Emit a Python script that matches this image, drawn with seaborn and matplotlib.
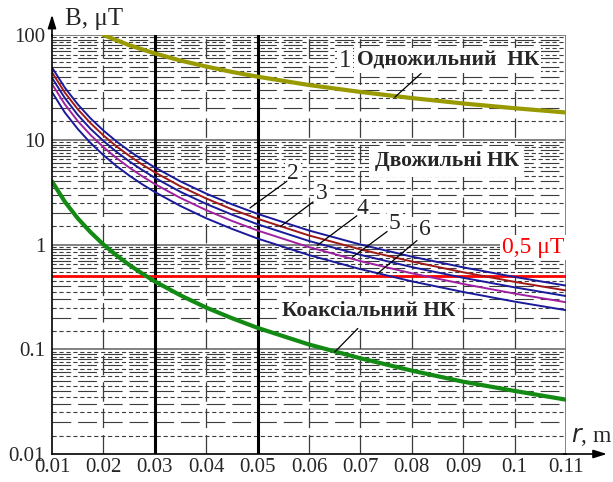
import numpy as np
import pandas as pd
import matplotlib
matplotlib.use("Agg")
import matplotlib.pyplot as plt
import seaborn as sns

# distance r, m (shared by the coaxial and two-core curves)
r = [0.01, 0.0125, 0.015, 0.0175, 0.02, 0.0225, 0.025, 0.0275, 0.03, 0.035,
     0.04, 0.045, 0.05, 0.06, 0.07, 0.08, 0.09, 0.10, 0.11]

# two-core cables, curves 2..6 (B, uT)
b2 = [49.0, 31.4, 21.8, 16.0, 12.25, 9.68, 7.84, 6.48, 5.44, 4.0, 3.06, 2.42, 1.96, 1.36, 1.0, 0.766, 0.605, 0.49, 0.405]
b3 = [44.0, 28.2, 19.6, 14.4, 11.0, 8.69, 7.04, 5.82, 4.89, 3.59, 2.75, 2.17, 1.76, 1.22, 0.898, 0.688, 0.543, 0.44, 0.364]
b4 = [39.0, 25.0, 17.3, 12.7, 9.75, 7.70, 6.24, 5.16, 4.33, 3.18, 2.44, 1.93, 1.56, 1.08, 0.796, 0.609, 0.481, 0.39, 0.322]
b5 = [34.0, 21.8, 15.1, 11.1, 8.5, 6.72, 5.44, 4.50, 3.78, 2.78, 2.13, 1.68, 1.36, 0.944, 0.694, 0.531, 0.420, 0.34, 0.281]
b6 = [28.5, 18.2, 12.7, 9.31, 7.13, 5.63, 4.56, 3.77, 3.17, 2.33, 1.78, 1.41, 1.14, 0.792, 0.582, 0.445, 0.352, 0.285, 0.236]

# coaxial cable
b_coax = [4.0, 2.56, 1.78, 1.31, 1.0, 0.79, 0.64, 0.53, 0.444, 0.327, 0.25, 0.198, 0.16, 0.111, 0.082, 0.0625, 0.049, 0.04, 0.033]

# single-core cable, curve 1
r1 = [0.02, 0.025, 0.03, 0.035, 0.04, 0.045, 0.05, 0.06, 0.07, 0.08, 0.09, 0.10, 0.11]
b1 = [100, 80, 66.7, 57, 50, 44.4, 40, 33.3, 28.6, 25, 22.2, 20, 18.2]

threshold = 0.5
x_ticks = [0.01, 0.02, 0.03, 0.04, 0.05, 0.06, 0.07, 0.08, 0.09, 0.1, 0.11]
x_labels = ["0.01", "0.02", "0.03", "0.04", "0.05", "0.06", "0.07", "0.08", "0.09", "0.1", "0.11"]
y_ticks = [0.01, 0.1, 1, 10, 100]
y_labels = ["0.01", "0.1", "1", "10", "100"]

sns.set_style("white")
plt.rcParams['font.family'] = ['Liberation Serif', 'DejaVu Serif']
plt.rcParams['lines.scale_dashes'] = False

fig = plt.figure(figsize=(6.13, 4.82), dpi=100)
ax = fig.add_axes([52 / 613, 28 / 482, 514 / 613, 419 / 482])
ax.set_yscale('log')
ax.set_xlim(0.01, 0.11)
ax.set_ylim(0.01, 100)

# Mathcad-like grid
gcol = '#3c3c3c'
for d in [0.01, 0.1, 1, 10]:
    for m in range(2, 10):
        ax.axhline(d * m, color=gcol, lw=0.8, ls=(0, (13.5, 5)), zorder=1)
    for m in np.arange(1.5, 10, 1.0):
        ax.axhline(d * m, color=gcol, lw=0.8, ls=(0, (3, 2)), zorder=1)
for d in [0.1, 1, 10, 100]:
    ax.axhline(d, color='#777777', lw=1.3, zorder=1)
for x in x_ticks[1:-1]:
    ax.axvline(x, color=gcol, lw=0.9, ls=(0, (14, 5)), zorder=1)
ax.axvline(0.11, color='#777777', lw=1.3, zorder=1)

ax.axvline(0.03, color='black', lw=2.2, zorder=2)
ax.axvline(0.05, color='black', lw=2.2, zorder=2)

# curves
df = pd.DataFrame({
    'r': r * 5,
    'B': b2 + b3 + b4 + b5 + b6,
    'curve': sum([[c] * len(r) for c in ['2', '3', '4', '5', '6']], []),
})
sns.lineplot(data=df, x='r', y='B', hue='curve', hue_order=['2', '3', '4', '5', '6'],
             palette=['#1a1a9a', '#a01818', '#1a1a9a', '#a020a0', '#1a1a9a'],
             lw=1.4, estimator=None, legend=False, ax=ax, zorder=5)
sns.lineplot(x=r, y=b_coax, color='#138a13', lw=3, ax=ax, zorder=5)
sns.lineplot(x=r1, y=b1, color='#999900', lw=3, ax=ax, zorder=5)
ax.axhline(threshold, color='#ff0000', lw=2, zorder=4)

# labels
box = dict(facecolor='white', edgecolor='none', pad=1.5)
ax.text(0.0670, 57, "1", fontsize=18, ha='center', va='center', bbox=box, zorder=3)
ax.text(0.0870, 57, "Одножильний  НК", fontsize=15.5, fontweight='bold',
        ha='center', va='center', bbox=box, zorder=3)
ax.text(0.0868, 6.2, "Двожильні НК", fontsize=15.5, fontweight='bold',
        ha='center', va='center', bbox=dict(facecolor='white', edgecolor='none', pad=4), zorder=3)
ax.text(0.0717, 0.233, "Коаксіальний НК", fontsize=15.5, fontweight='bold',
        ha='center', va='center', bbox=box, zorder=3)
ax.text(0.1036, 0.94, "0,5 μT", fontsize=17, color='#ff0000',
        ha='center', va='center', bbox=box, zorder=3)

leaders = [
    ((0.0818, 42.9), (0.0767, 25.5)),
    ((0.0557, 4.02), (0.0485, 2.23)),
    ((0.0608, 2.55), (0.0544, 1.48)),
    ((0.0693, 1.88), (0.0616, 0.98)),
    ((0.0752, 1.33), (0.0684, 0.754)),
    ((0.0810, 1.09), (0.0732, 0.521)),
    ((0.0695, 0.158), (0.0650, 0.094)),
]
for (x0, y0), (x1, y1) in leaders:
    ax.plot([x0, x1], [y0, y1], color='black', lw=0.9, zorder=6)

for lab, x, y in [("2", 0.0569, 4.78), ("3", 0.0625, 3.09), ("4", 0.0703, 2.19),
                  ("5", 0.0767, 1.58), ("6", 0.0825, 1.385)]:
    ax.text(x, y, lab, fontsize=17, ha='center', va='center', bbox=box, zorder=3)

# axes, ticks, arrows
for s in ['top', 'right']:
    ax.spines[s].set_visible(False)
for s in ['left', 'bottom']:
    ax.spines[s].set_color('black')
    ax.spines[s].set_linewidth(1.2)
    ax.spines[s].set_zorder(7)
ax.set_xticks(x_ticks)
ax.set_xticklabels(x_labels)
ax.set_yticks(y_ticks)
ax.set_yticklabels(y_labels)
ax.minorticks_off()
ax.tick_params(axis='both', which='major', direction='out', length=3, width=1,
               color='black', labelsize=15, pad=0)
ax.tick_params(axis='y', pad=2)
ax.set_xlabel("")
ax.set_ylabel("")

ax.annotate("", xy=(1.085, 0), xytext=(0.99, 0), xycoords='axes fraction',
            arrowprops=dict(arrowstyle='-|>,head_length=0.8,head_width=0.25', color='black', lw=1.2),
            annotation_clip=False)
ax.annotate("", xy=(0, 1.055), xytext=(0, 0.99), xycoords='axes fraction',
            arrowprops=dict(arrowstyle='-|>,head_length=0.8,head_width=0.25', color='black', lw=1.2),
            annotation_clip=False)
fig.text(65 / 613, 1 - 19 / 482, "B, μT", fontsize=18, ha='left', va='center')
fig.text(571 / 613, 1 - 437 / 482, "$\\it{r}$, m", fontsize=17, ha='left', va='center')

fig.savefig("out.png", dpi=100)
